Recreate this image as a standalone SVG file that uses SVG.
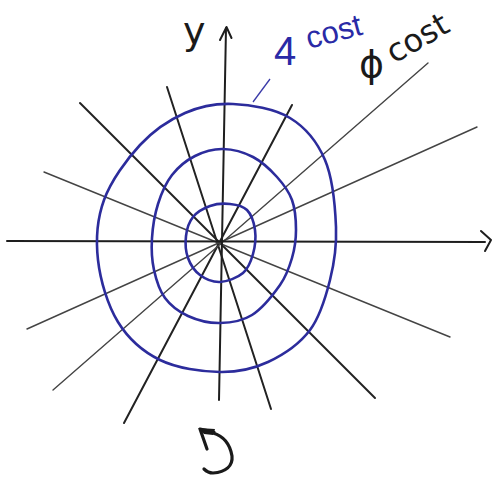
<svg xmlns="http://www.w3.org/2000/svg" width="493" height="477" viewBox="0 0 493 477">
<style>
.ax{stroke:#1e1e1e;stroke-width:2;fill:none;stroke-linecap:round;stroke-linejoin:round}
.ray{stroke:#222;stroke-width:2;fill:none;stroke-linecap:round}
.ray.thin{stroke:#444;stroke-width:1.4}
.curve{stroke:#2c2c9c;stroke-width:2.6;fill:none}
.blue{fill:#2a2aa6;font-family:"Liberation Sans",Arial,sans-serif}
.blk{fill:#1a1a1a;font-family:"DejaVu Sans","Liberation Sans",sans-serif}
</style>
<rect width="493" height="477" fill="#ffffff"/>
<g id="rays">
<line class="ray" x1="80" y1="103" x2="375" y2="398"/>
<line class="ray" x1="167" y1="87" x2="271" y2="409"/>
<line class="ray" x1="292" y1="105" x2="124" y2="423"/>
<line class="ray thin" x1="428" y1="63" x2="53" y2="390"/>
<line class="ray thin" x1="477" y1="127" x2="27" y2="329"/>
<line class="ray thin" x1="44" y1="172" x2="450" y2="337"/>
</g>
<g id="axes">
<line class="ax" x1="7" y1="241" x2="485" y2="242"/>
<polyline class="ax" points="481,231 491,240 485,251"/>
<line class="ax" x1="226" y1="28" x2="219" y2="400"/>
<polyline class="ax" points="220,40 226.5,27 231.5,38"/>
</g>
<g id="curves">
<path id="outer" class="curve" d="M 233,104 C 250.5,104.8 274.7,108.7 290,118 C 305.3,127.3 317.3,141.8 325,160 C 332.7,178.2 335.2,207 336,227 C 336.8,247 334.3,262.8 330,280 C 325.7,297.2 320.3,316.3 310,330 C 299.7,343.7 283,355 268,362 C 253,369 238,372.3 220,372 C 202,371.7 177,368.3 160,360 C 143,351.7 128.3,338.7 118,322 C 107.7,305.3 100.3,280.3 98,260 C 95.7,239.7 97,219.2 104,200 C 111,180.8 126.5,159.5 140,145 C 153.5,130.5 169.5,119.8 185,113 C 200.5,106.2 215.5,103.2 233,104 Z"/>
<path id="middle" class="curve" d="M 223,149 C 232.7,149.2 244,152.3 253,157 C 262,161.7 270.5,169.8 277,177 C 283.5,184.2 288.8,191.2 292,200 C 295.2,208.8 296,220.3 296,230 C 296,239.7 294.7,248.8 292,258 C 289.3,267.2 286.7,275.5 280,285 C 273.3,294.5 262,308.7 252,315 C 242,321.3 230.7,322.8 220,323 C 209.3,323.2 197.2,320.2 188,316 C 178.8,311.8 170.7,305.7 165,298 C 159.3,290.3 156.2,280 154,270 C 151.8,260 151.3,249 152,238 C 152.7,227 154.7,214.5 158,204 C 161.3,193.5 165.8,183 172,175 C 178.2,167 186.5,160.3 195,156 C 203.5,151.7 213.3,148.8 223,149 Z"/>
<path id="inner" class="curve" d="M 230,204 C 236.2,204.7 242.8,205.7 247,210 C 251.2,214.3 254,222.7 255,230 C 256,237.3 255,246.8 253,254 C 251,261.2 248.5,268.3 243,273 C 237.5,277.7 227.2,281.7 220,282 C 212.8,282.3 205.3,279 200,275 C 194.7,271 190.3,264.5 188,258 C 185.7,251.5 185.2,242.8 186,236 C 186.8,229.2 189,222 193,217 C 197,212 203.8,208.2 210,206 C 216.2,203.8 223.8,203.3 230,204 Z"/>
<line stroke="#3a3aa8" stroke-width="1.3" x1="270" y1="79" x2="253" y2="102"/>
</g>
<g id="labels">
<text class="blk" x="183" y="44" font-size="38">y</text>
<text class="blue" x="274" y="65" font-size="40">4</text>
<text class="blue" x="309" y="49" font-size="31" transform="rotate(-15 309 49)">cost</text>
<text class="blk" x="359" y="77" font-size="38">ϕ</text>
<text class="blk" x="394" y="64" font-size="32" transform="rotate(-30 394 64)">cost</text>
</g>
<g id="rotation-arrow">
<polyline points="207,449 200,429 214,432" fill="none" stroke="#1a1a1a" stroke-width="3.2" stroke-linejoin="round" stroke-linecap="round"/>
<polygon points="198,428 215,429 213,435 204,434" fill="#1a1a1a"/>
<path d="M 213,433 C 223,436 230,444 232,456 C 233,466 226,472 213,473 C 209,473 206,471 204,469" fill="none" stroke="#1a1a1a" stroke-width="3.2" stroke-linecap="round"/>
</g>
</svg>
